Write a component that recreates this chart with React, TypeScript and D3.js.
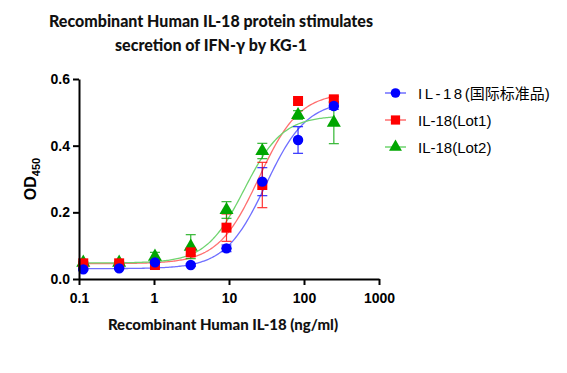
import React, { useEffect, useRef } from 'react';
import * as d3 from 'd3';

// concentrations (ng/ml), 3-fold dilution
const conc = [0.114, 0.343, 1.03, 3.09, 9.26, 27.8, 83.3, 250];

const seriesNames = ['IL-18(国际标准品)', 'IL-18(Lot1)', 'IL-18(Lot2)'];
const stdMean = [0.029, 0.032, 0.05, 0.042, 0.092, 0.292, 0.417, 0.519];
const stdErr = [0.003, 0.003, 0.004, 0.004, 0.01, 0.042, 0.04, 0.01];
const lot1Mean = [0.047, 0.047, 0.042, 0.08, 0.154, 0.282, 0.534, 0.539];
const lot1Err = [0.003, 0.003, 0.004, 0.008, 0.041, 0.068, 0.006, 0.008];
const lot2Mean = [0.049, 0.049, 0.067, 0.097, 0.207, 0.384, 0.492, 0.469];
const lot2Err = [0.003, 0.003, 0.013, 0.036, 0.025, 0.023, 0.013, 0.063];

// 4PL fit parameters: bottom, top, EC50, hill
const fitBottom = [0.031, 0.046, 0.048];
const fitTop = [0.535, 0.56, 0.49];
const fitEC50 = [31, 25, 16];
const fitHill = [1.6, 1.6, 1.7];

const xTicks = [0.1, 1, 10, 100, 1000];
const yTicks = [0, 0.2, 0.4, 0.6];

const colors = ['#0000ff', '#ff0000', '#00a600'];
const lineColors = ['#6f6fff', '#ff6f6f', '#6fd46f'];

const App = () => {
  const ref = useRef<SVGSVGElement>(null);

  useEffect(() => {
    const svg = d3.select(ref.current);
    svg.selectAll('*').remove();

    const x = d3.scaleLog().domain([0.1, 1000]).range([79, 379]);
    const y = d3.scaleLinear().domain([0, 0.6]).range([279, 79]);

    const means = [stdMean, lot1Mean, lot2Mean];
    const errs = [stdErr, lot1Err, lot2Err];

    // title
    const title = svg.append('text')
      .attr('text-anchor', 'middle')
      .style('font-family', 'Lato, "Open Sans", sans-serif')
      .style('font-weight', '900')
      .style('font-size', '16px')
      .attr('fill', '#111');
    title.append('tspan').attr('x', 211).attr('y', 27).text('Recombinant Human IL-18  protein stimulates');
    title.append('tspan').attr('x', 211).attr('y', 51).text('secretion of IFN-γ by KG-1');

    // fit curves
    const grid = d3.range(0, 201).map(i => Math.pow(10, -1 + (i / 200) * Math.log10(2500)));
    means.forEach((_, s) => {
      const f = (c: number) =>
        fitBottom[s] + (fitTop[s] - fitBottom[s]) / (1 + Math.pow(fitEC50[s] / c, fitHill[s]));
      const line = d3.line<number>().x(c => x(c)).y(c => y(f(c)));
      svg.append('path')
        .attr('d', line(grid))
        .attr('fill', 'none')
        .attr('stroke', lineColors[s])
        .attr('stroke-width', 1.3);
    });

    // error bars
    means.forEach((m, s) => {
      const g = svg.append('g').attr('stroke', colors[s]).attr('stroke-width', 1.2).attr('opacity', 0.8);
      conc.forEach((c, i) => {
        const cx = x(c);
        const y1 = y(m[i] + errs[s][i]);
        const y2 = y(m[i] - errs[s][i]);
        g.append('line').attr('x1', cx).attr('x2', cx).attr('y1', y1).attr('y2', y2);
        g.append('line').attr('x1', cx - 5).attr('x2', cx + 5).attr('y1', y1).attr('y2', y1);
        g.append('line').attr('x1', cx - 5).attr('x2', cx + 5).attr('y1', y2).attr('y2', y2);
      });
    });

    // markers (draw lot2, lot1, then std on top)
    const symbols = [d3.symbolCircle, d3.symbolSquare, d3.symbolTriangle];
    const sizes = [85, 100, 85];
    [2, 1, 0].forEach(s => {
      svg.append('g').selectAll('path')
        .data(conc)
        .join('path')
        .attr('transform', (c, i) => `translate(${x(c)},${y(means[s][i])})`)
        .attr('d', d3.symbol(symbols[s], sizes[s])())
        .attr('fill', colors[s]);
    });

    // axes
    const xAxis = svg.append('g')
      .attr('transform', 'translate(0,279)')
      .call(d3.axisBottom(x).tickValues(xTicks).tickFormat(d => String(d)).tickSize(6).tickSizeOuter(0));
    const yAxis = svg.append('g')
      .attr('transform', 'translate(79,0)')
      .call(d3.axisLeft(y).tickValues(yTicks).tickFormat(d3.format('.1f')).tickSize(6).tickSizeOuter(0));
    [xAxis, yAxis].forEach(a => {
      a.select('.domain').attr('stroke', '#000').attr('stroke-width', 2);
      a.selectAll('.tick line').attr('stroke', '#000').attr('stroke-width', 2);
      a.selectAll('.tick text')
        .attr('fill', '#000')
        .style('font-family', '"Liberation Sans", Arial, sans-serif')
        .style('font-weight', 'bold')
        .style('font-size', '14px');
    });
    xAxis.selectAll('.tick text').attr('dy', '1.1em');

    // axis titles
    svg.append('text')
      .attr('x', 223)
      .attr('y', 330)
      .attr('text-anchor', 'middle')
      .style('font-family', 'Lato, "Open Sans", sans-serif')
      .style('font-weight', '900')
      .style('font-size', '15px')
      .attr('fill', '#111')
      .text('Recombinant Human IL-18 (ng/ml)');

    const yl = svg.append('text')
      .attr('transform', 'translate(36,179) rotate(-90)')
      .attr('text-anchor', 'middle')
      .style('font-family', '"Liberation Sans", Arial, sans-serif')
      .style('font-weight', 'bold')
      .style('font-size', '16px')
      .attr('fill', '#000');
    yl.append('tspan').text('OD');
    yl.append('tspan').attr('dy', 4).style('font-size', '11px').text('450');

    // legend
    const legend = svg.append('g').attr('transform', 'translate(385,93)');
    seriesNames.forEach((name, s) => {
      const row = legend.append('g').attr('transform', `translate(0,${s * 27})`);
      row.append('line').attr('x1', 0).attr('x2', 21).attr('stroke', lineColors[s]).attr('stroke-width', 1.5);
      row.append('path')
        .attr('transform', 'translate(10.5,0)')
        .attr('d', d3.symbol(symbols[s], sizes[s] * 0.85)())
        .attr('fill', colors[s]);
      const t = row.append('text')
        .attr('x', 33)
        .attr('y', 5.5)
        .style('font-family', '"Liberation Sans", Arial, "Noto Sans CJK SC", sans-serif')
        .style('font-size', '15px')
        .attr('fill', '#000');
      if (s === 0) {
        t.append('tspan').style('letter-spacing', '2.5px').text('IL-18');
        t.append('tspan').text('(国际标准品)');
      } else {
        t.text(name);
      }
    });
  }, []);

  return <svg ref={ref} width={567} height={373} style={{ display: 'block', margin: '-8px' }} />;
};

export default App;
